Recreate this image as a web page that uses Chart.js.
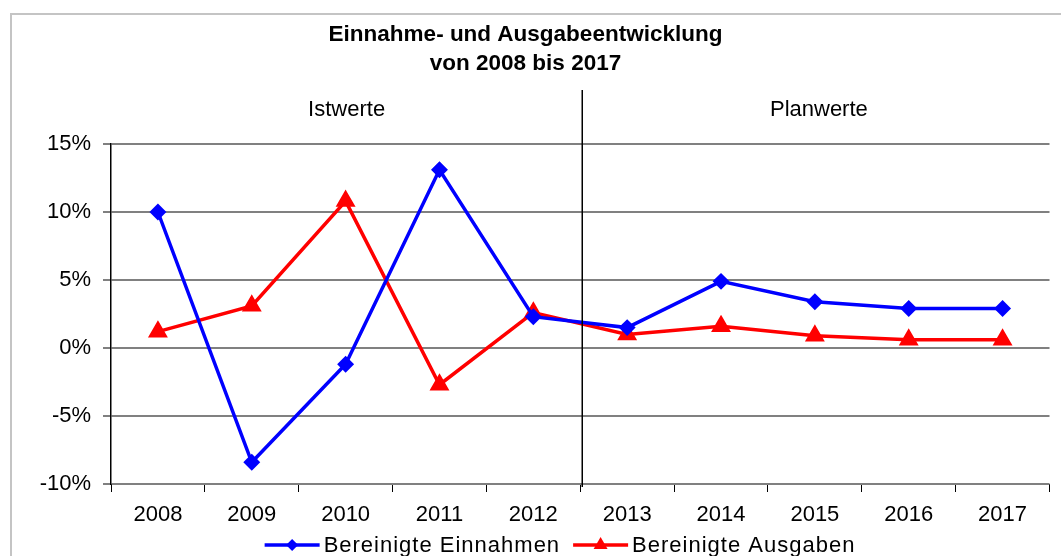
<!DOCTYPE html>
<html>
<head>
<meta charset="utf-8">
<title>Einnahme- und Ausgabeentwicklung</title>
<script src="https://cdn.jsdelivr.net/npm/chart.js@4.4.1/dist/chart.umd.min.js"></script>
<style>
    html, body { margin: 0; padding: 0; background: #fff; }
    #wrap { width: 1061px; height: 556px; }
</style>
</head>
<body>
<div id="wrap"><canvas id="financeChart" width="1061" height="556"></canvas></div>
<script>
// Data
const years = ['2008', '2009', '2010', '2011', '2012', '2013', '2014', '2015', '2016', '2017'];
const einnahmen = [10.0, -8.4, -1.2, 13.1, 2.3, 1.5, 4.9, 3.4, 2.9, 2.9];
const ausgaben = [1.2, 3.1, 10.8, -2.7, 2.6, 1.0, 1.6, 0.9, 0.6, 0.6];
const yTicks = [-10, -5, 0, 5, 10, 15];
const phases = ['Istwerte', 'Planwerte'];
const lastActualIndex = 4; // 2012 is the last "Istwert"

const FONT = '"Liberation Sans", Arial, sans-serif';
Chart.defaults.font.family = FONT;
Chart.defaults.color = '#000';

// White background + light grey outer frame
const framePlugin = {
    id: 'frame',
    beforeDraw(chart) {
        const ctx = chart.ctx;
        ctx.save();
        ctx.fillStyle = '#fff';
        ctx.fillRect(0, 0, chart.width, chart.height);
        ctx.strokeStyle = '#c4c4c4';
        ctx.lineWidth = 2;
        ctx.strokeRect(11, 14, chart.width + 50, chart.height + 50);
        ctx.restore();
    }
};

// Divider between actual and planned values, with the two headings
const phasePlugin = {
    id: 'phases',
    afterDraw(chart) {
        const ctx = chart.ctx;
        const x = chart.scales.x;
        const area = chart.chartArea;
        const divX = (x.getPixelForValue(lastActualIndex) + x.getPixelForValue(lastActualIndex + 1)) / 2 + 2;
        ctx.save();
        ctx.strokeStyle = '#000';
        ctx.lineWidth = 1.5;
        ctx.beginPath();
        ctx.moveTo(divX, 90);
        ctx.lineTo(divX, area.bottom + 3);
        ctx.stroke();

        ctx.font = '22px ' + FONT;
        ctx.fillStyle = '#000';
        ctx.textAlign = 'center';
        ctx.textBaseline = 'middle';
        ctx.fillText(phases[0], (area.left + divX) / 2, 110);
        ctx.fillText(phases[1], (divX + area.right) / 2 + 3, 110);
        ctx.restore();
    }
};

function drawMarker(ctx, style, cx, cy, r) {
    ctx.beginPath();
    if (style === 'rectRot') {
        ctx.moveTo(cx, cy - r);
        ctx.lineTo(cx + r, cy);
        ctx.lineTo(cx, cy + r);
        ctx.lineTo(cx - r, cy);
    } else {
        ctx.moveTo(cx, cy - r);
        ctx.lineTo(cx + r * 0.87, cy + r * 0.5);
        ctx.lineTo(cx - r * 0.87, cy + r * 0.5);
    }
    ctx.closePath();
    ctx.fill();
}

// Excel style legend: line with marker, then label
const legendPlugin = {
    id: 'lineLegend',
    afterDraw(chart) {
        const ctx = chart.ctx;
        const y = 545;
        const lineLen = 55;
        const gap = 4;
        const itemGap = 13;
        ctx.save();
        ctx.font = '22px ' + FONT;
        ctx.letterSpacing = '1px';
        ctx.textBaseline = 'middle';
        const sets = chart.data.datasets;
        const widths = sets.map(ds => lineLen + gap + ctx.measureText(ds.label).width);
        const total = widths.reduce((a, b) => a + b, 0) + itemGap * (sets.length - 1);
        let x = 560 - total / 2;
        sets.forEach((ds, i) => {
            ctx.strokeStyle = ds.borderColor;
            ctx.fillStyle = ds.borderColor;
            ctx.lineWidth = 3.5;
            ctx.beginPath();
            ctx.moveTo(x, y);
            ctx.lineTo(x + lineLen, y);
            ctx.stroke();
            drawMarker(ctx, ds.pointStyle, x + lineLen / 2, y, ds.pointStyle === 'rectRot' ? 6 : 8);
            ctx.fillStyle = '#000';
            ctx.fillText(ds.label, x + lineLen + gap, y + 1);
            x += widths[i] + itemGap;
        });
        ctx.restore();
    }
};

const ctx = document.getElementById('financeChart').getContext('2d');
const financeChart = new Chart(ctx, {
    type: 'line',
    data: {
        labels: years,
        datasets: [{
            label: 'Bereinigte Einnahmen',
            data: einnahmen,
            borderColor: '#0000ff',
            backgroundColor: '#0000ff',
            borderWidth: 3.5,
            pointStyle: 'rectRot',
            pointRadius: 6,
            pointHoverRadius: 6,
            tension: 0
        }, {
            label: 'Bereinigte Ausgaben',
            data: ausgaben,
            borderColor: '#ff0000',
            backgroundColor: '#ff0000',
            borderWidth: 3.5,
            pointStyle: 'triangle',
            pointRadius: 8,
            pointHoverRadius: 8,
            tension: 0
        }]
    },
    options: {
        responsive: false,
        animation: false,
        layout: { padding: { left: 0, right: 10, top: 0, bottom: 0 } },
        plugins: {
            legend: { display: false },
            tooltip: { enabled: false },
            title: {
                display: true,
                text: ['Einnahme- und Ausgabeentwicklung', 'von 2008 bis 2017'],
                font: { size: 22.5, weight: 'bold', lineHeight: 29 / 22.5 },
                color: '#000',
                padding: { top: 20, bottom: 66 }
            }
        },
        scales: {
            x: {
                offset: true,
                grid: {
                    offset: true,
                    drawOnChartArea: false,
                    tickLength: 8,
                    tickColor: '#000',
                    lineWidth: 1
                },
                border: { display: false },
                ticks: { font: { size: 22 }, color: '#000', padding: 10, maxRotation: 0 },
                afterFit(scale) { scale.height = 72; }
            },
            y: {
                min: -10,
                max: 15,
                afterBuildTicks(scale) { scale.ticks = yTicks.map(v => ({ value: v })); },
                grid: { color: '#808080', lineWidth: 2, tickLength: 8 },
                border: { display: true, color: '#000', width: 1.5 },
                ticks: {
                    font: { size: 22 },
                    color: '#000',
                    padding: 12,
                    callback: v => v + '%'
                },
                afterFit(scale) { scale.width = 111; }
            }
        }
    },
    plugins: [framePlugin, phasePlugin, legendPlugin]
});
</script>
</body>
</html>
